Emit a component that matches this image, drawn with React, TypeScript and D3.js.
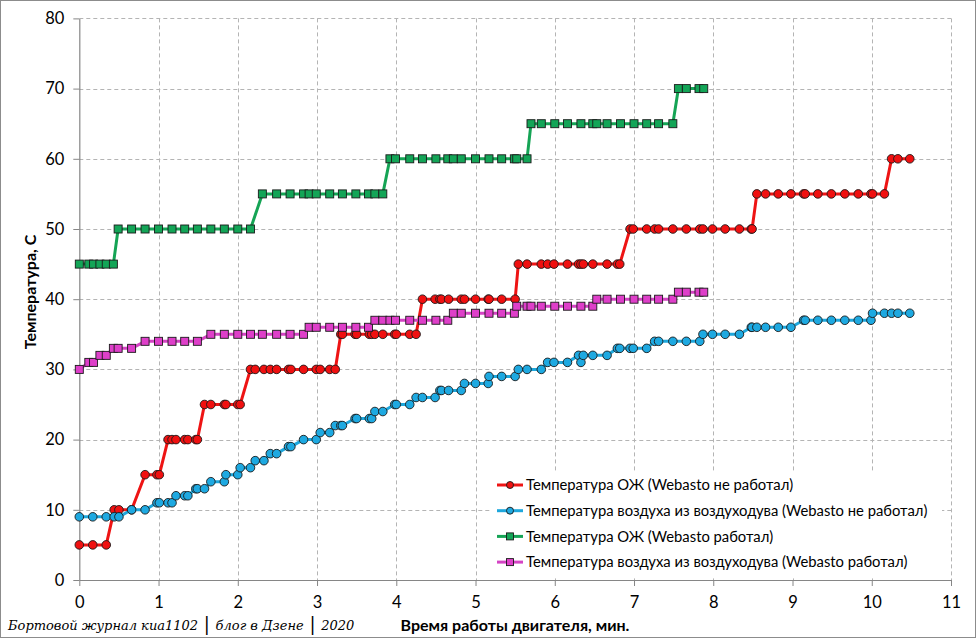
import { useRef, useEffect } from "react";
import * as d3 from "d3";

// Time samples (min) shared by the two "Webasto off" series
const timeOff = [
  0, 0.17, 0.34, 0.44, 0.5, 0.66, 0.83, 0.98, 1.01, 1.12,
  1.17, 1.22, 1.33, 1.37, 1.47, 1.49, 1.58, 1.66, 1.83, 1.85,
  2.0, 2.03, 2.16, 2.22, 2.33, 2.41, 2.49, 2.64, 2.67, 2.83,
  2.99, 3.04, 3.16, 3.23, 3.3, 3.32, 3.48, 3.5, 3.66, 3.69,
  3.73, 3.83, 3.98, 4.0, 4.17, 4.25, 4.33, 4.49, 4.55, 4.57,
  4.66, 4.82, 4.86, 5.0, 5.16, 5.17, 5.33, 5.5, 5.54, 5.65,
  5.83, 5.91, 5.99, 6.16, 6.3, 6.33, 6.36, 6.48, 6.66, 6.79,
  6.82, 6.95, 6.99, 7.16, 7.26, 7.31, 7.49, 7.66, 7.83, 7.87,
  7.99, 8.15, 8.33, 8.48, 8.49, 8.55, 8.66, 8.82, 8.98, 9.14,
  9.16, 9.32, 9.49, 9.66, 9.83, 9.99, 10.01, 10.16, 10.25, 10.33,
  10.48,
];

const coolantOff = [
  5, 5, 5, 10, 10, 10, 15, 15, 15, 20,
  20, 20, 20, 20, 20, 20, 25, 25, 25, 25,
  25, 25, 30, 30, 30, 30, 30, 30, 30, 30,
  30, 30, 30, 30, 35, 35, 35, 35, 35, 35,
  35, 35, 35, 35, 35, 35, 40, 40, 40, 40,
  40, 40, 40, 40, 40, 40, 40, 40, 45, 45,
  45, 45, 45, 45, 45, 45, 45, 45, 45, 45,
  45, 50, 50, 50, 50, 50, 50, 50, 50, 50,
  50, 50, 50, 50, 50, 55, 55, 55, 55, 55,
  55, 55, 55, 55, 55, 55, 55, 55, 60, 60,
  60,
];

const airOff = [
  9, 9, 9, 9, 9, 10, 10, 11, 11, 11,
  11, 12, 12, 12, 13, 13, 13, 14, 14, 15,
  15, 16, 16, 17, 17, 18, 18, 19, 19, 20,
  20, 21, 21, 22, 22, 22, 23, 23, 23, 23,
  24, 24, 25, 25, 25, 26, 26, 26, 27, 27,
  27, 27, 28, 28, 28, 29, 29, 29, 30, 30,
  30, 31, 31, 31, 32, 31, 32, 32, 32, 33,
  33, 33, 33, 33, 34, 34, 34, 34, 34, 35,
  35, 35, 35, 36, 36, 36, 36, 36, 36, 37,
  37, 37, 37, 37, 37, 37, 38, 38, 38, 38,
  38,
];

// Time samples (min) shared by the two "Webasto on" series
const timeOn = [
  0, 0.12, 0.18, 0.26, 0.34, 0.43, 0.49, 0.66, 0.83, 1.0,
  1.17, 1.33, 1.49, 1.66, 1.83, 2.0, 2.16, 2.31, 2.49, 2.66,
  2.83, 2.9, 2.99, 3.16, 3.32, 3.49, 3.65, 3.73, 3.83, 3.92,
  3.99, 4.17, 4.33, 4.5, 4.65, 4.72, 4.82, 5.0, 5.17, 5.33,
  5.49, 5.52, 5.65, 5.7, 5.83, 6.0, 6.16, 6.33, 6.48, 6.53,
  6.66, 6.83, 7.0, 7.16, 7.31, 7.49, 7.56, 7.66, 7.82, 7.88,
];

const coolantOn = [
  45, 45, 45, 45, 45, 45, 50, 50, 50, 50,
  50, 50, 50, 50, 50, 50, 50, 55, 55, 55,
  55, 55, 55, 55, 55, 55, 55, 55, 55, 60,
  60, 60, 60, 60, 60, 60, 60, 60, 60, 60,
  60, 60, 60, 65, 65, 65, 65, 65, 65, 65,
  65, 65, 65, 65, 65, 65, 70, 70, 70, 70,
];

const airOn = [
  30, 31, 31, 32, 32, 33, 33, 33, 34, 34,
  34, 34, 34, 35, 35, 35, 35, 35, 35, 35,
  35, 36, 36, 36, 36, 36, 36, 37, 37, 37,
  37, 37, 37, 37, 37, 38, 38, 38, 38, 38,
  38, 39, 39, 39, 39, 39, 39, 39, 39, 40,
  40, 40, 40, 40, 40, 40, 41, 41, 41, 41,
];

const xTicks = d3.range(0, 12);
const yTicks = d3.range(0, 90, 10);

const seriesNames = [
  "Температура ОЖ (Webasto не работал)",
  "Температура воздуха из воздуходува (Webasto не работал)",
  "Температура ОЖ (Webasto работал)",
  "Температура воздуха из воздуходува (Webasto работал)",
];

const watermarkParts = ["Бортовой журнал киа1102", "блог в Дзене", "2020"];

type Series = {
  name: string;
  times: number[];
  values: number[];
  line: string;
  fill: string;
  marker: "circle" | "square";
};

const series: Series[] = [
  { name: seriesNames[0], times: timeOff, values: coolantOff, line: "#ee1414", fill: "#f01010", marker: "circle" },
  { name: seriesNames[1], times: timeOff, values: airOff, line: "#1ea7dc", fill: "#1ea9e1", marker: "circle" },
  { name: seriesNames[2], times: timeOn, values: coolantOn, line: "#15a455", fill: "#13a557", marker: "square" },
  { name: seriesNames[3], times: timeOn, values: airOn, line: "#d444c4", fill: "#de3fc9", marker: "square" },
];

const width = 976;
const height = 638;
const font = "Lato, 'Open Sans', sans-serif";

export default function App() {
  const ref = useRef<SVGSVGElement>(null);

  useEffect(() => {
    if (!ref.current) return;
    const svg = d3.select(ref.current);
    svg.selectAll("*").remove();

    const left = 79.3;
    const right = 951;
    const top = 18.4;
    const bottom = 580;

    const x = d3.scaleLinear().domain([0, 11]).range([left, right]);
    const y = d3.scaleLinear().domain([0, 80]).range([bottom, top]);

    // background + outer frame
    svg.append("rect").attr("x", 0.5).attr("y", 0.5).attr("width", width - 1).attr("height", height - 1)
      .attr("fill", "#fff").attr("stroke", "#8c8c8c");

    // grid
    const grid = svg.append("g").attr("stroke", "#b4b4b4").attr("stroke-dasharray", "4,3").attr("stroke-width", 1);
    grid.selectAll("line.h").data(yTicks.filter((d) => d > 0)).join("line")
      .attr("x1", left).attr("x2", right)
      .attr("y1", (d) => Math.round(y(d)) + 0.5).attr("y2", (d) => Math.round(y(d)) + 0.5);
    grid.selectAll("line.v").data(xTicks.filter((d) => d > 0)).join("line")
      .attr("y1", top).attr("y2", bottom)
      .attr("x1", (d) => Math.round(x(d)) + 0.5).attr("x2", (d) => Math.round(x(d)) + 0.5);

    // axes
    const xAxis = svg.append("g").attr("transform", `translate(0, ${bottom})`)
      .call(d3.axisBottom(x).tickValues(xTicks).tickSize(6).tickSizeOuter(0).tickPadding(10).tickFormat(d3.format("d")));
    const yAxis = svg.append("g").attr("transform", `translate(${left}, 0)`)
      .call(d3.axisLeft(y).tickValues(yTicks).tickSize(6).tickSizeOuter(0).tickPadding(9).tickFormat(d3.format("d")));
    [xAxis, yAxis].forEach((a) => {
      a.select(".domain").attr("stroke", "#868686").attr("stroke-width", 1.2);
      a.selectAll(".tick line").attr("stroke", "#868686");
      a.selectAll(".tick text").attr("fill", "#000").attr("font-size", 16.5).attr("font-family", font);
    });

    // series
    series.forEach((s) => {
      const pts = s.times.map((t, i) => [t, s.values[i]] as [number, number]);
      const line = d3.line<[number, number]>().x((d) => x(d[0])).y((d) => y(d[1]));
      svg.append("path").datum(pts).attr("fill", "none").attr("stroke", s.line)
        .attr("stroke-width", 3).attr("stroke-linejoin", "round").attr("d", line);
      const g = svg.append("g");
      if (s.marker === "circle") {
        g.selectAll("circle").data(pts).join("circle")
          .attr("cx", (d) => x(d[0])).attr("cy", (d) => y(d[1])).attr("r", 4.3)
          .attr("fill", s.fill).attr("stroke", "#1a1a1a").attr("stroke-width", 0.9);
      } else {
        g.selectAll("rect").data(pts).join("rect")
          .attr("x", (d) => x(d[0]) - 4).attr("y", (d) => y(d[1]) - 4)
          .attr("width", 8).attr("height", 8)
          .attr("fill", s.fill).attr("stroke", "#1a1a1a").attr("stroke-width", 0.9);
      }
    });

    // legend
    const lg = svg.append("g");
    lg.append("rect").attr("x", 490).attr("y", 471).attr("width", 452).attr("height", 106).attr("fill", "#fff");
    series.forEach((s, i) => {
      const cy = 485 + i * 25.7;
      lg.append("line").attr("x1", 497).attr("x2", 523).attr("y1", cy).attr("y2", cy)
        .attr("stroke", s.line).attr("stroke-width", 3);
      if (s.marker === "circle") {
        lg.append("circle").attr("cx", 510).attr("cy", cy).attr("r", 3.5)
          .attr("fill", s.fill).attr("stroke", "#1a1a1a").attr("stroke-width", 0.9);
      } else {
        lg.append("rect").attr("x", 506.5).attr("y", cy - 3.5).attr("width", 7).attr("height", 7)
          .attr("fill", s.fill).attr("stroke", "#1a1a1a").attr("stroke-width", 0.9);
      }
      lg.append("text").attr("x", 526).attr("y", cy).attr("dy", "0.35em")
        .attr("font-family", font).attr("font-size", 14.8).attr("fill", "#000").text(s.name);
    });

    // axis titles
    svg.append("text").attr("x", 515).attr("y", 631).attr("text-anchor", "middle")
      .attr("font-family", font).attr("font-weight", "bold").attr("font-size", 16).text("Время работы двигателя, мин.");
    svg.append("text").attr("transform", `translate(36, 292) rotate(-90)`).attr("text-anchor", "middle")
      .attr("font-family", font).attr("font-weight", "bold").attr("font-size", 16).text("Температура, С");

    // watermark with vertical separators
    const wm = svg.append("text").attr("x", 8).attr("y", 630)
      .attr("font-family", "'DejaVu Serif', serif").attr("font-style", "italic").attr("font-size", 13)
      .attr("fill", "#000");
    watermarkParts.forEach((p, i) => {
      if (i > 0) wm.append("tspan").attr("font-style", "normal").attr("font-size", 18).attr("dy", 0).text(" | ");
      wm.append("tspan").text(p);
    });
  }, []);

  return (
    <svg ref={ref} width={width} height={height}
      style={{ position: "absolute", left: 0, top: 0, display: "block" }} />
  );
}
